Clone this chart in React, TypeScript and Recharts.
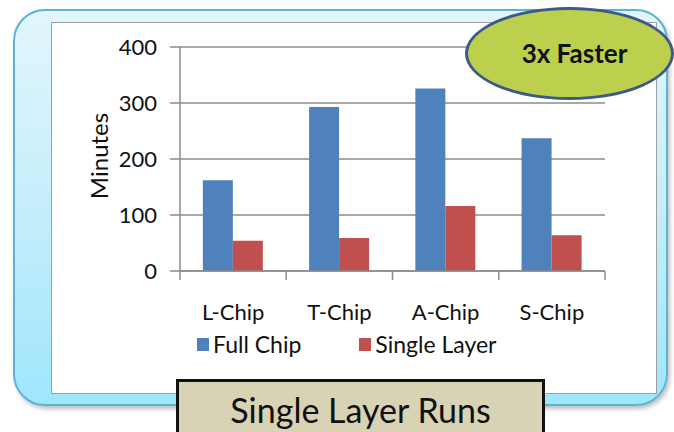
import { BarChart, Bar, XAxis, YAxis, CartesianGrid } from "recharts";

const categories = ["L-Chip", "T-Chip", "A-Chip", "S-Chip"];
const fullChip = [162, 293, 326, 237];
const singleLayer = [54, 59, 116, 64];
const yTicks = [0, 100, 200, 300, 400];
const seriesNames = ["Full Chip", "Single Layer"];
const seriesColors = ["#4f81bd", "#c0504d"];

const data = categories.map((name, i) => ({
  name,
  full: fullChip[i],
  single: singleLayer[i],
}));

const W = 674;
const H = 432;
const margin = { top: 47, right: 69, bottom: 111, left: 100 };
const yAxisWidth = 80;
const band = (W - margin.left - yAxisWidth - margin.right) / categories.length;
const calibri = "Lato, 'Open Sans', sans-serif";

function CategoryTick(props: any) {
  const { x, y, payload, index } = props;
  const last = index === categories.length - 1;
  return (
    <g>
      <line x1={x - band / 2} y1={y} x2={x - band / 2} y2={y + 9} stroke="#8c8c8c" strokeWidth={1.5} />
      {last && <line x1={x + band / 2} y1={y} x2={x + band / 2} y2={y + 9} stroke="#8c8c8c" strokeWidth={1.5} />}
      <text x={x} y={y + 49} textAnchor="middle" fontFamily={calibri} fontSize={22} fill="#111">
        {payload.value}
      </text>
    </g>
  );
}

function YTitle(props: any) {
  const { viewBox } = props;
  const cx = viewBox.x + viewBox.width - 82;
  const cy = viewBox.y + viewBox.height / 2 - 3;
  return (
    <text
      x={cx}
      y={cy}
      transform={`rotate(-90 ${cx} ${cy})`}
      textAnchor="middle"
      dominantBaseline="central"
      fontFamily={calibri}
      fontSize={24}
      fill="#111"
    >
      Minutes
    </text>
  );
}

export default function App() {
  return (
    <div style={{ position: "absolute", left: 0, top: 0, width: W, height: H, overflow: "hidden", background: "#fff" }}>
      <div
        style={{
          position: "absolute",
          left: 13,
          top: 9,
          width: 655,
          height: 397,
          boxSizing: "border-box",
          borderRadius: 32,
          border: "2px solid #5cb3d6",
          background: "linear-gradient(180deg, #e2f6fd 0%, #c2edfb 55%, #9fe6fc 100%)",
          boxShadow: "2px 3px 4px rgba(0,0,0,0.25)",
        }}
      />
      <div
        style={{
          position: "absolute",
          left: 51,
          top: 22,
          width: 606,
          height: 372,
          boxSizing: "border-box",
          border: "1px solid #a0a0a0",
          background: "#fff",
        }}
      />
      <div style={{ position: "absolute", left: 0, top: 0 }}>
        <BarChart width={W} height={H} data={data} margin={margin} barGap={0} barCategoryGap="21.5%">
          <CartesianGrid vertical={false} stroke="#8c8c8c" strokeWidth={1.5} />
          <XAxis
            dataKey="name"
            height={50}
            axisLine={{ stroke: "#8c8c8c", strokeWidth: 1.5 }}
            tickLine={false}
            tickSize={0}
            tickMargin={0}
            tick={<CategoryTick />}
            interval={0}
          />
          <YAxis
            width={yAxisWidth}
            domain={[0, 400]}
            ticks={yTicks}
            axisLine={{ stroke: "#8c8c8c", strokeWidth: 1.5 }}
            tickLine={{ stroke: "#8c8c8c", strokeWidth: 1.5 }}
            tickSize={10}
            tickMargin={13}
            tick={{ fontFamily: calibri, fontSize: 22, fill: "#111" }}
            label={<YTitle />}
          />
          <Bar dataKey="full" name={seriesNames[0]} fill={seriesColors[0]} isAnimationActive={false} />
          <Bar dataKey="single" name={seriesNames[1]} fill={seriesColors[1]} isAnimationActive={false} />
        </BarChart>
      </div>
      <div
        style={{
          position: "absolute",
          left: 197,
          top: 330,
          display: "flex",
          fontFamily: calibri,
          fontSize: 23,
          color: "#111",
        }}
      >
        {seriesNames.map((s, i) => (
          <div key={s} style={{ display: "flex", alignItems: "center", marginRight: 58 }}>
            <span style={{ width: 12, height: 13, background: seriesColors[i], marginRight: 4 }} />
            <span>{s}</span>
          </div>
        ))}
      </div>
      <div
        style={{
          position: "absolute",
          left: 465,
          top: 7,
          width: 209,
          height: 93,
          boxSizing: "border-box",
          borderRadius: "50%",
          border: "3px solid #3b5a88",
          background: "#bdd04e",
          display: "flex",
          alignItems: "center",
          justifyContent: "center",
          fontFamily: calibri,
          fontWeight: 700,
          fontSize: 26,
          color: "#111",
          paddingLeft: 10,
          paddingBottom: 2,
        }}
      >
        3x Faster
      </div>
      <div
        style={{
          position: "absolute",
          left: 176,
          top: 379,
          width: 369,
          height: 62,
          boxSizing: "border-box",
          border: "3px solid #111",
          background: "#d9d3b5",
          fontFamily: calibri,
          fontSize: 34,
          color: "#111",
          textAlign: "center",
          paddingTop: 7,
        }}
      >
        Single Layer Runs
      </div>
    </div>
  );
}
